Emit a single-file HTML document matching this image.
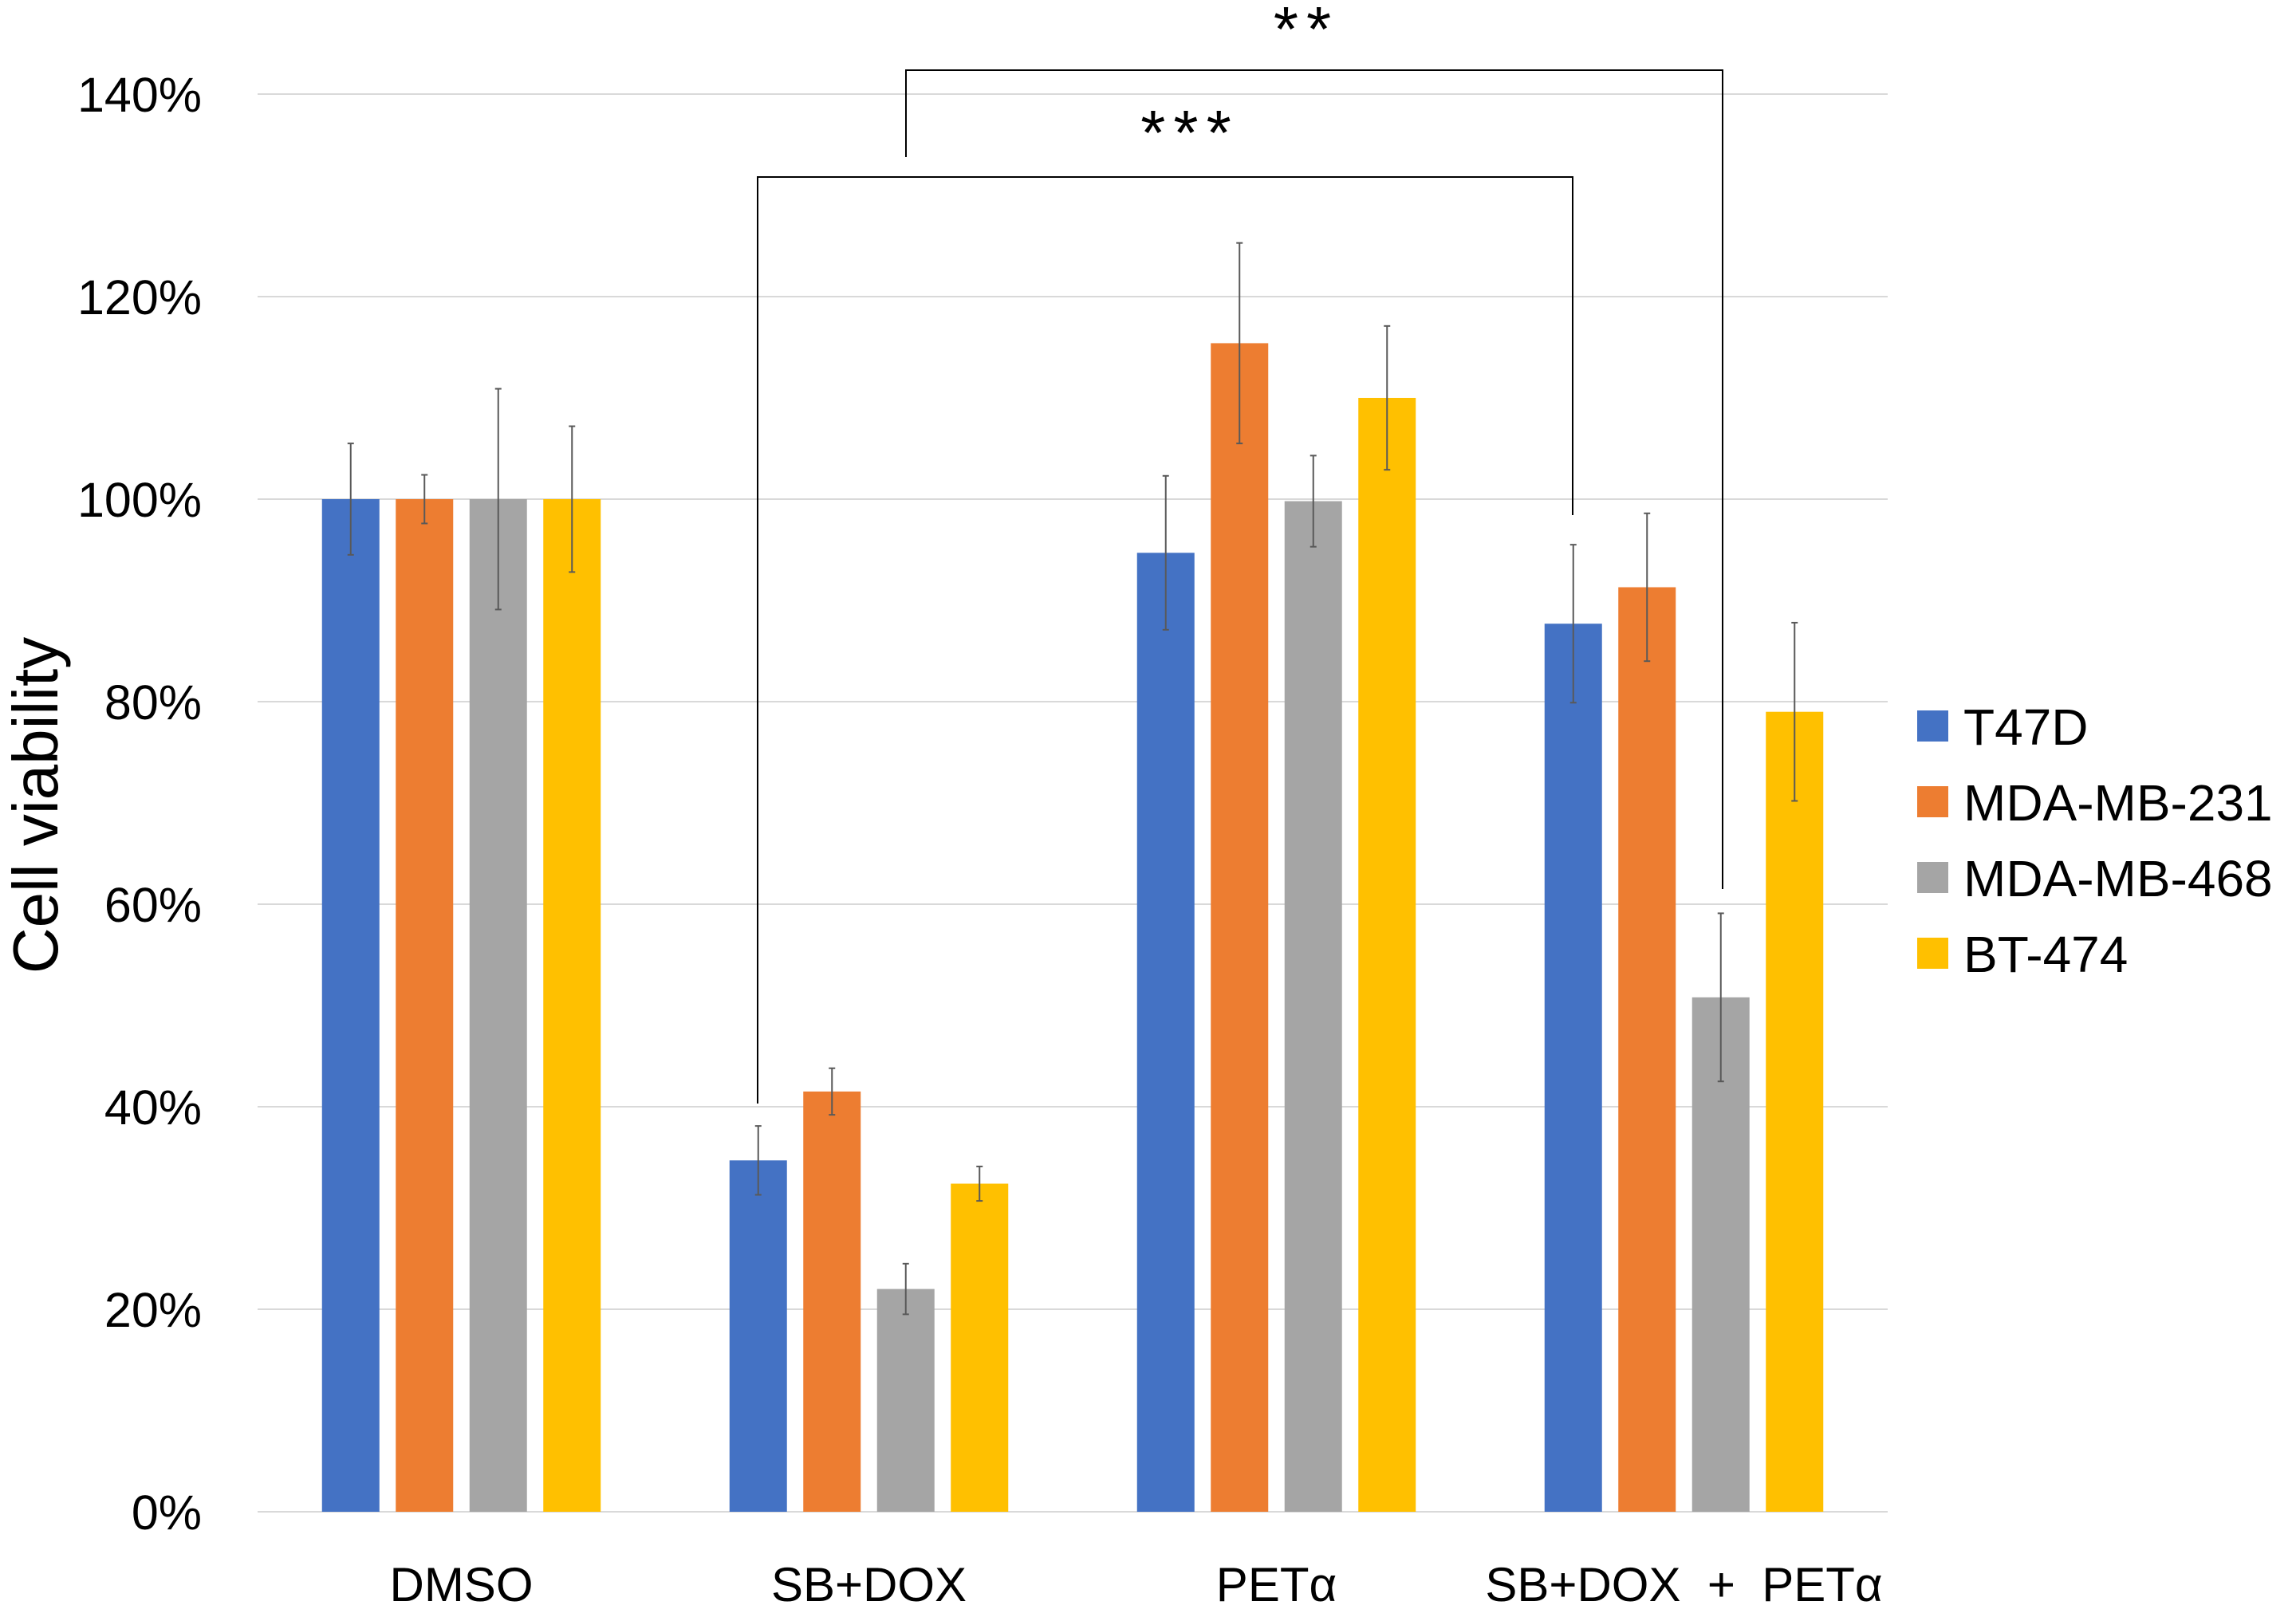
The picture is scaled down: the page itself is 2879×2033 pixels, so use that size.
<!DOCTYPE html>
<html><head><meta charset="utf-8">
<style>
html,body{margin:0;padding:0;background:#fff;}
svg{display:block;font-family:"Liberation Sans",sans-serif;}
</style></head>
<body>
<svg id="chart" width="2879" height="2033" viewBox="0 0 2879 2033" xmlns="http://www.w3.org/2000/svg">
<g id="grid"></g>
<g id="yticks"></g>
<g id="bars"></g>
<g id="errs"></g>
<g id="xlabels"></g>
<text transform="translate(72,1010) rotate(-90)" text-anchor="middle" font-size="80" fill="#000">Cell viability</text>
<g fill="none" stroke="#000" stroke-width="2">
<polyline points="950,1384 950,222 1972,222 1972,646"/>
</g>
<text x="1492" y="194" text-anchor="middle" font-size="80" fill="#000" letter-spacing="10">***</text>
<g fill="none" stroke="#000" stroke-width="2">
<polyline points="1136,197 1136,88 2160,88 2160,1115"/>
</g>
<text x="1638" y="64" text-anchor="middle" font-size="80" fill="#000" letter-spacing="10">**</text>
<g id="legend"></g>
</svg>
<script>
const categories = ["DMSO", "SB+DOX", "PETα", "SB+DOX  +  PETα"];
const seriesNames = ["T47D", "MDA-MB-231", "MDA-MB-468", "BT-474"];
const seriesColors = ["#4472C4", "#ED7D31", "#A5A5A5", "#FFC000"];
const t47d = [100, 34.7, 94.7, 87.7];
const mda231 = [100, 41.5, 115.4, 91.3];
const mda468 = [100, 22.0, 99.8, 50.8];
const bt474 = [100, 32.4, 110.0, 79.0];
const t47dErr = [5.5, 3.4, 7.6, 7.8];
const mda231Err = [2.4, 2.3, 9.9, 7.3];
const mda468Err = [10.9, 2.5, 4.5, 8.3];
const bt474Err = [7.2, 1.7, 7.1, 8.8];
const yTicks = [0, 20, 40, 60, 80, 100, 120, 140];

const NS = "http://www.w3.org/2000/svg";
const plotL = 323, plotR = 2367, y0 = 1896, pxPer = 12.7;
const groupW = (plotR - plotL) / categories.length;
function yScale(v){ return y0 - v * pxPer; }
function groupCenter(i){ return plotL + groupW * (i + 0.5); }
const barW = 72, pitch = 92.5;
function barX(gi, si){ return groupCenter(gi) + (si - 1.5) * pitch - barW / 2; }
function mk(tag, attrs, parent){
  const e = document.createElementNS(NS, tag);
  for (const k in attrs) e.setAttribute(k, attrs[k]);
  parent.appendChild(e);
  return e;
}
const grid = document.getElementById('grid');
const yt = document.getElementById('yticks');
yTicks.forEach(v => {
  const l = mk('line', {x1: plotL, x2: plotR, y1: yScale(v), y2: yScale(v), stroke: '#d9d9d9', 'stroke-width': 2}, grid);
  
  
  const t = mk('text', {x: 253, y: yScale(v) + 22, 'text-anchor': 'end', 'font-size': 61, fill: '#000'}, yt);
  t.textContent = v + '%';
  
  
});
const vals = [t47d, mda231, mda468, bt474];
const errs = [t47dErr, mda231Err, mda468Err, bt474Err];
const barsG = document.getElementById('bars');
const errG = document.getElementById('errs');
categories.forEach((c, gi) => {
  vals.forEach((s, si) => {
    const x = barX(gi, si);
    const r = mk('rect', {x: x, y: yScale(s[gi]), width: barW, height: y0 - yScale(s[gi]), fill: seriesColors[si]}, barsG);
    
    
    const cx = x + barW / 2, hi = yScale(s[gi] + errs[si][gi]), lo = yScale(s[gi] - errs[si][gi]);
    const g = mk('g', {stroke: '#595959', 'stroke-width': 2}, errG);
    
    
    mk('line', {x1: cx, x2: cx, y1: hi, y2: lo}, g);
    mk('line', {x1: cx - 4, x2: cx + 4, y1: hi, y2: hi}, g);
    mk('line', {x1: cx - 4, x2: cx + 4, y1: lo, y2: lo}, g);
  });
  const t = mk('text', {x: groupCenter(gi), y: 2008, 'text-anchor': 'middle', 'font-size': 60, fill: '#000', style: 'white-space:pre'}, document.getElementById('xlabels'));
  t.textContent = c;
  
  
});
const leg = document.getElementById('legend');
seriesNames.forEach((n, i) => {
  const cy = 911 + i * 95;
  const g = mk('g', {}, leg);
  
  
  mk('rect', {x: 2404, y: cy - 20, width: 39, height: 39, fill: seriesColors[i]}, g);
  const t = mk('text', {x: 2462, y: cy + 23, 'font-size': 64, fill: '#000'}, g);
  t.textContent = n;
});
</script>
</body></html>
